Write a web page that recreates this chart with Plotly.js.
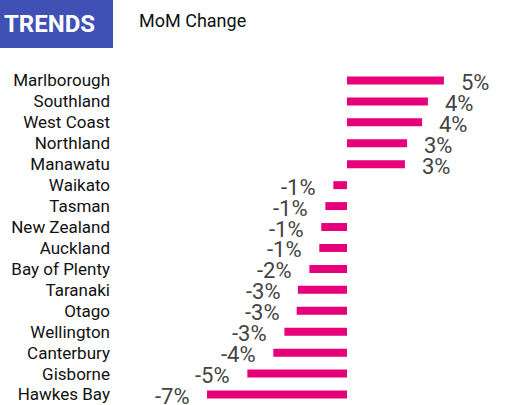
<!DOCTYPE html>
<html>
<head>
<meta charset="utf-8">
<script src="https://cdn.plot.ly/plotly-3.0.1.min.js"></script>
<style>html,body{margin:0;padding:0;background:#fff;}#chart{width:506px;height:405px;}</style>
</head>
<body>
<div id="chart"></div>
<script>
var regions = ["Marlborough","Southland","West Coast","Northland","Manawatu","Waikato","Tasman","New Zealand","Auckland","Bay of Plenty","Taranaki","Otago","Wellington","Canterbury","Gisborne","Hawkes Bay"];
var momChange = [4.97, 4.15, 3.85, 3.08, 2.97, -0.70, -1.11, -1.32, -1.42, -1.93, -2.52, -2.58, -3.21, -3.78, -5.11, -7.18];
var valueLabels = ["5%","4%","4%","3%","3%","-1%","-1%","-1%","-1%","-2%","-3%","-3%","-3%","-4%","-5%","-7%"];

var L = 114, T = 70, W = 506, H = 405;
var pw = W - L, ph = H - T;
function px(xp){ return (xp - L) / pw; }
function py(yp){ return 1 + (T - yp) / ph; }

var annotations = regions.map(function(r, i){
  var v = momChange[i];
  return {
    x: v, y: r, xref: 'x', yref: 'y',
    text: valueLabels[i], showarrow: false,
    xanchor: v >= 0 ? 'left' : 'right',
    xshift: v >= 0 ? 15 : -15, yshift: -2,
    font: {family: 'Roboto', size: 22, color: '#444444'}
  };
});
annotations.push({
  xref: 'paper', yref: 'paper', x: px(49), y: py(24),
  text: '<b>TRENDS</b>', showarrow: false, xanchor: 'center', yanchor: 'middle',
  font: {family: 'Roboto', size: 24, color: '#ffffff'}
});
annotations.push({
  xref: 'paper', yref: 'paper', x: px(137), y: py(20),
  text: 'MoM Change', showarrow: false, xanchor: 'left', yanchor: 'middle',
  font: {family: 'Roboto', size: 18, color: '#111111'}
});

var data = [{
  type: 'bar', orientation: 'h',
  x: momChange, y: regions,
  marker: {color: '#E6007A'},
  hoverinfo: 'none'
}];

var pxPerUnit = 19.5;
var xmin = -(347 - L) / pxPerUnit;
var xmax = xmin + pw / pxPerUnit;

var layout = {
  width: W, height: H,
  margin: {l: L, r: 0, t: T, b: 0, pad: 0, autoexpand: false},
  paper_bgcolor: '#ffffff', plot_bgcolor: '#ffffff',
  showlegend: false,
  bargap: 0.62,
  font: {family: 'Roboto'},
  xaxis: {range: [xmin, xmax], visible: false, showgrid: false, zeroline: false, fixedrange: true, automargin: false},
  yaxis: {
    type: 'category', range: [regions.length - 0.5, -0.5], automargin: false,
    showgrid: false, zeroline: false, showline: false, ticklabelstandoff: 3,
    ticks: '', tickfont: {family: 'Roboto', size: 17, color: '#111111'}, fixedrange: true
  },
  shapes: [{
    type: 'rect', xref: 'paper', yref: 'paper',
    x0: px(0), x1: px(113), y0: py(48), y1: py(0),
    fillcolor: '#3F51B5', line: {width: 0}, layer: 'below'
  }],
  annotations: annotations
};

Plotly.newPlot('chart', data, layout, {displayModeBar: false, staticPlot: true});
</script>
</body>
</html>
